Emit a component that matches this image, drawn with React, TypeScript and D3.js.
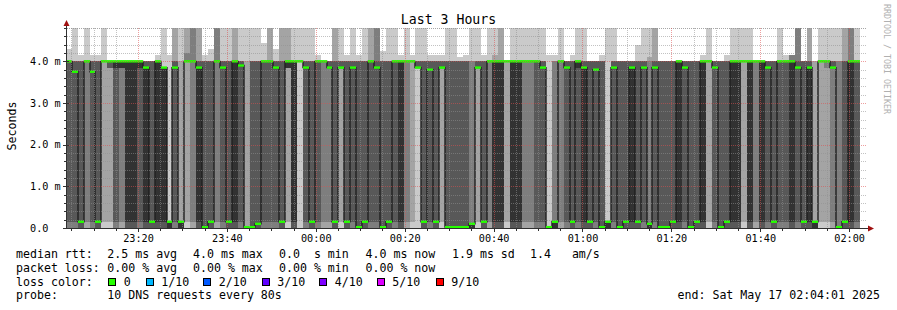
import React from "react";
import * as d3 from "d3";

const WIDTH = 897;
const HEIGHT = 310;

// time window of the graph (3 hours ending at 02:04:01)
const startTime = new Date(Date.UTC(2025, 4, 16, 23, 4, 1));
const endTime = new Date(Date.UTC(2025, 4, 17, 2, 4, 1));
// first RRD step boundary (80 s steps)
const firstStepStart = new Date(Date.UTC(2025, 4, 16, 23, 3, 45));
const stepSeconds = 80;

const yMaxMs = 4.8;
const yMajorTicks = [0, 1, 2, 3, 4];
const yTickLabels = ["0.0", "1.0 m", "2.0 m", "3.0 m", "4.0 m"];

// 10 sorted DNS round trip times (ms) per 80 s step
const pings: number[][] = [
  [0, 0, 0, 0.15, 4, 4, 4, 4, 4, 4.3],
  [0, 0, 0, 0.15, 3.75, 3.75, 4, 4, 4, 5],
  [0, 0, 0, 0, 0.15, 0.15, 4, 4, 4, 4.15],
  [0, 0, 0.15, 4, 4, 4, 4, 4, 4, 5],
  [0, 0, 0, 0.15, 3.75, 3.75, 4, 4, 4, 4.15],
  [0, 0, 0, 0, 0.15, 0.15, 4, 4, 4, 4.15],
  [0, 0.15, 4, 4, 4, 4, 4, 4, 4, 5],
  [0, 0.15, 3.85, 3.85, 4, 4, 4, 4, 4, 4],
  [0, 0, 0, 0.15, 3.85, 4, 4, 4, 4, 4],
  [0, 0, 0.15, 3.85, 3.85, 4, 4, 4, 4, 4],
  [0, 0, 0, 0, 0.15, 4, 4, 4, 4, 4],
  [0, 0, 0, 0, 0.15, 4, 4, 4, 4, 4],
  [0, 0, 0, 0.15, 3.85, 4, 4, 4, 4, 4],
  [0, 0, 0, 0, 0.15, 3.85, 4, 4, 4, 4],
  [0, 0, 0, 0, 0.15, 0.15, 4, 4, 4, 4],
  [0, 0, 0, 0, 0.15, 4, 4, 4, 4, 4.15],
  [0, 0, 0, 0, 0.15, 3.85, 3.85, 3.85, 3.85, 5],
  [0, 0, 0, 0, 0, 0.15, 0.15, 0.15, 0.15, 4.15],
  [0, 0, 0, 0.15, 3.85, 3.85, 4, 4, 5, 5],
  [0, 0, 0, 0, 0, 0.15, 0.15, 0.15, 4, 5],
  [0, 0.15, 4, 4, 4, 4, 4, 4.2, 5, 5],
  [0, 0, 0.15, 4, 4, 4, 4, 5, 5, 5],
  [0, 0, 0, 0, 0.15, 3.85, 4, 4, 5, 5],
  [0, 0, 0, 0, 0.02, 0.02, 4, 4, 4, 4.15],
  [0, 0, 0, 0, 0.15, 0.15, 4, 4, 4, 4.3],
  [0, 0, 0.15, 4, 4, 4, 4, 5, 5, 5],
  [0, 0, 0, 0.15, 3.85, 3.85, 4, 4, 4, 5],
  [0, 0, 0, 0, 0.15, 0.15, 4, 4, 4, 5],
  [0, 0, 0, 0, 0.15, 4, 4, 4, 5, 5],
  [0, 0, 0, 0.15, 3.9, 3.9, 4, 4, 4, 5],
  [0, 0, 0, 0, 0, 0.02, 0.02, 0.02, 4, 5],
  [0, 0, 0, 0, 0.02, 0.02, 4, 4, 4, 5],
  [0, 0, 0, 0, 0.1, 0.1, 4, 4, 4, 5],
  [0, 0, 0, 0.15, 4, 4, 4, 4, 4, 4.45],
  [0, 0, 0, 0.15, 4, 4, 4, 4, 5, 5],
  [0, 0, 0, 0.15, 3.85, 3.85, 4, 4, 4, 4.3],
  [0, 0, 0, 0, 0.15, 0.15, 4, 4, 5, 5],
  [0, 0.15, 3.85, 3.85, 3.85, 4, 4, 4, 5, 5],
  [0, 0, 0, 0, 0.15, 4, 4, 4, 4, 5],
  [0, 4, 4, 4, 4, 4, 4, 4, 4, 5],
  [0, 0, 0, 0.15, 3.85, 3.85, 4, 4, 4, 5],
  [0, 0, 0, 0, 0.15, 0.15, 4, 4, 4, 5],
  [0, 0, 0, 0.15, 4, 4, 4, 4, 4, 4.15],
  [0, 0, 0.15, 4, 4, 4, 4, 4, 4, 4],
  [0, 0, 0.15, 3.85, 3.85, 3.85, 4, 4, 4, 4],
  [0, 0, 0, 0, 0.15, 0.15, 4, 4, 5, 5],
  [0, 0.15, 3.85, 3.85, 3.85, 3.85, 4, 4, 4, 5],
  [0, 0, 0, 0, 0.15, 0.15, 4, 4, 4, 4.15],
  [0, 0, 0, 0.15, 3.85, 3.85, 4, 4, 4, 5],
  [0, 0, 0, 0, 0.02, 0.02, 4, 4, 4, 4.15],
  [0, 0, 0, 0, 0.15, 0.15, 4, 4, 4, 5],
  [0, 0, 0, 0.15, 4, 4, 4, 4, 5, 5],
  [0, 0, 0, 0.15, 3.85, 3.85, 4, 5, 5, 5],
  [0, 0, 0, 0, 0.02, 0.02, 4, 4, 4, 4.25],
  [0, 0, 0, 0, 0.15, 0.15, 4, 4, 4, 5],
  [0, 0, 0, 0.15, 4, 4, 4, 4, 4, 5],
  [0, 0, 0, 0, 0.15, 4, 4, 4, 4, 4.15],
  [0, 0, 0.15, 4, 4, 4, 4, 4, 4, 5],
  [0, 0.15, 4, 4, 4, 4, 4, 4, 4, 4.15],
  [0, 3.85, 3.85, 3.85, 3.85, 3.85, 4, 4, 4, 5],
  [0, 0, 0, 0, 0.15, 0.15, 4, 4, 4, 5],
  [0, 0, 0, 0.15, 3.8, 3.8, 4, 4, 4, 4.15],
  [0, 0, 0, 0, 0.15, 0.15, 4, 4, 4, 4.15],
  [0, 0.15, 3.85, 3.85, 3.85, 3.85, 4, 4, 4, 4.15],
  [0, 0, 0, 0, 0.02, 0.02, 4, 4, 4, 5],
  [0, 0, 0, 0, 0.02, 0.02, 4, 4, 4, 5],
  [0, 0, 0, 0, 0.02, 0.02, 4, 4, 4, 4.1],
  [0, 0, 0, 0, 0.02, 0.02, 4, 4, 4, 4.15],
  [0, 0, 0, 0, 0, 0.1, 0.1, 4, 4, 5],
  [0, 0.15, 3.85, 3.85, 3.85, 3.85, 4, 4, 4, 5],
  [0, 0, 0, 0, 0.15, 0.15, 4, 4, 4, 4.15],
  [0, 0, 0.15, 4, 4, 4, 4, 4, 4, 5],
  [0, 0, 0, 0, 0.15, 4, 4, 4, 4.15, 5],
  [0, 0, 0, 0, 0.15, 4, 4, 4, 5, 5],
  [0, 0.15, 4, 4, 4, 4, 4, 4, 4, 4],
  [0, 0, 0, 0, 0.15, 4, 4, 4, 4, 5],
  [0, 0, 0, 0, 0.15, 4, 4, 4, 4, 5],
  [0, 0, 0.15, 4, 4, 4, 4, 4, 4, 5],
  [0, 0, 0.15, 4, 4, 4, 4, 4, 4, 5],
  [0, 0, 0, 0.15, 4, 4, 4, 4, 4, 5],
  [0, 0, 0, 0.15, 3.85, 3.85, 4, 4, 4, 5],
  [0, 0, 0, 0, 0, 0.02, 0.02, 0.02, 0.02, 4.15],
  [0, 0, 0, 0, 0, 0.15, 0.15, 4, 4, 4.15],
  [0, 0, 0.15, 4, 4, 4, 4, 4, 4, 5],
  [0, 0, 0, 0.15, 3.85, 3.85, 4, 4, 4, 4],
  [0, 0, 0, 0, 0.15, 0.15, 4, 4, 4, 4.15],
  [0, 0, 0, 0.15, 3.85, 4, 4, 4, 4, 5],
  [0, 0, 0, 0, 0.15, 3.85, 4, 4, 4, 5],
  [0, 0, 0, 0, 0.15, 0.15, 4, 4, 4, 4],
  [0, 0, 0, 0.15, 3.8, 3.8, 4, 4, 4, 4],
  [0, 0, 0, 0, 0.02, 0.02, 4, 4, 4, 4.15],
  [0, 0, 0, 0, 0, 0.15, 0.15, 0.15, 0.15, 5],
  [0, 0, 0, 0.15, 3.85, 3.85, 4, 4, 4, 5],
  [0, 0, 0, 0, 0.02, 0.02, 4, 4, 4, 4],
  [0, 0, 0, 0, 0.15, 0.15, 4, 4, 4, 4],
  [0, 0, 0, 0, 0.15, 3.85, 4, 4, 4, 4],
  [0, 0, 0, 0, 0.15, 0.15, 4, 4, 4, 4.4],
  [0, 0, 0, 0.15, 3.85, 3.85, 4, 4, 4, 5],
  [0, 0, 0, 0, 0, 0.1, 0.1, 4, 4.1, 5],
  [0, 0, 0, 0.15, 3.85, 3.85, 4, 4, 5, 5],
  [0, 0, 0, 0, 0.02, 0.02, 4, 4, 4, 4],
  [0, 0, 0, 0, 0.02, 0.02, 4, 4, 4, 4],
  [0, 0, 0, 0, 0.15, 0.15, 4, 4, 4, 4],
  [0, 0, 0, 0, 0.15, 4, 4, 4, 4, 4],
  [0, 0, 0, 0.15, 3.85, 3.85, 4, 4, 4, 4],
  [0, 0, 0, 0, 0.02, 0.02, 4, 4, 4, 4],
  [0, 0, 0, 0, 0.15, 0.15, 4, 4, 4, 4],
  [0, 0, 0, 0, 0.15, 4, 4, 4, 4, 4.15],
  [0, 0.15, 4, 4, 4, 4, 4, 4, 4, 5],
  [0, 0, 0, 0.15, 3.85, 3.85, 4, 4, 4, 4],
  [0, 0, 0, 0, 0.02, 0.02, 4, 4, 4, 4],
  [0, 0, 0, 0, 0.15, 0.15, 4, 4, 4, 4.15],
  [0, 0, 0, 0, 0.15, 4, 4, 4, 4, 5],
  [0, 0, 0, 0, 0.15, 4, 4, 4, 4, 5],
  [0, 0.15, 4, 4, 4, 4, 4, 4, 4, 5],
  [0, 0, 0, 0, 0.15, 4, 4, 4, 4, 5],
  [0, 0, 0.15, 4, 4, 4, 4, 4, 4, 4],
  [0, 0, 0, 0, 0.15, 4, 4, 4, 4, 4],
  [0, 0, 0, 0.15, 3.85, 3.85, 4, 4, 4, 4],
  [0, 0, 0, 0, 0.15, 0.15, 4, 4, 4, 4],
  [0, 0, 0, 0.15, 4, 4, 4, 4, 4, 5],
  [0, 0, 0, 0.15, 4, 4, 4, 4, 4, 4.15],
  [0, 0, 0, 0, 0.15, 4, 4, 4.15, 4.15, 4.15],
  [0, 0, 0, 0.15, 3.85, 3.85, 4, 5, 5, 5],
  [0, 0, 0, 0, 0.15, 0.15, 4, 4, 4, 4],
  [0, 0, 0, 0, 0.15, 3.85, 4, 4, 5, 5],
  [0, 0, 0, 0, 0, 0.15, 0.15, 0.15, 4, 4],
  [0, 0.15, 4, 4, 4, 4, 4, 4, 4, 5],
  [0, 0.15, 3.85, 4, 4, 4, 4, 4, 4, 5],
  [0, 0, 0.15, 3.85, 3.85, 3.85, 4, 4, 4, 5],
  [0, 0, 0, 0, 0, 0.02, 0.02, 4, 4, 5],
  [0, 0, 0, 0, 0.15, 0.15, 4, 4, 5, 5],
  [0, 0, 0, 0, 0.15, 4, 4, 5, 5, 5],
  [0, 0, 0, 0.15, 4, 4, 4, 4, 4, 5],
];

// smoke band greys, outermost pair first
const smokeGreys = ["#cacaca", "#a4a4a4", "#7e7e7e", "#585858", "#323232"];
const medianColor = "#26ff00";

const lossColors = ["#26ff00", "#00b8ff", "#0059ff", "#5e00ff", "#7e00ff", "#dd00ff", "#ff0000"];
const lossLabels = ["0", "1/10", "2/10", "3/10", "4/10", "5/10", "9/10"];

const rttLabels = ["2.5 ms avg", "4.0 ms max", "0.0  s min", "4.0 ms now", "1.9 ms sd", "1.4   am/s"];
const lossStats = ["0.00 % avg", "0.00 % max", "0.00 % min", "0.00 % now"];
const probeText = "10 DNS requests every 80s";
const endText = "end: Sat May 17 02:04:01 2025";
const titleText = "Last 3 Hours";
const yAxisTitle = "Seconds";
const watermark = "RRDTOOL / TOBI OETIKER";

const MONO = "'DejaVu Sans Mono', 'Liberation Mono', monospace";

export default function App() {
  const L = 67, R = 867, T = 28, B = 228;
  const x = d3.scaleUtc().domain([startTime, endTime]).range([L, R]);
  const y = d3.scaleLinear().domain([0, yMaxMs]).range([B, T]);

  const cols = pings.map((p, k) => {
    const t0 = new Date(firstStepStart.getTime() + k * stepSeconds * 1000);
    const t1 = new Date(t0.getTime() + stepSeconds * 1000);
    const sorted = [...p].sort((a, b) => a - b);
    return { x0: Math.round(x(t0)), x1: Math.round(x(t1)), p: sorted, median: sorted[5] };
  });

  const clampV = (v: number) => Math.max(0, Math.min(yMaxMs, v));

  const minorX = x.ticks(d3.utcMinute.every(5) as any);
  const majorX = x.ticks(d3.utcMinute.every(20) as any);
  const majorXSet = new Set(majorX.map((d) => d.getTime()));
  const fmt = d3.utcFormat("%H:%M");

  const minorY = d3.range(1, 25).map((i) => i * 0.2).filter((v) => Math.abs(v - Math.round(v)) > 1e-6);

  const stepPts: [number, number][] = [];
  cols.forEach((c) => stepPts.push([c.x0, y(c.median)]));
  const last = cols[cols.length - 1];
  stepPts.push([last.x1, y(last.median)]);
  const stepLine = d3.line().curve(d3.curveStepAfter)(stepPts) || "";

  const legendCols = [107.3, 193, 279, 365.5, 452, 530];
  const boxX = [108.5, 146, 203.5, 262, 319.5, 377, 436];

  return (
    <svg width={WIDTH} height={HEIGHT} style={{ display: "block", position: "absolute", left: 0, top: 0, background: "#fff" }}>
      <defs>
        <clipPath id="plotClip">
          <rect x={L} y={T} width={R - L} height={B - T} />
        </clipPath>
      </defs>
      <rect x={0} y={0} width={WIDTH} height={HEIGHT} fill="#fff" />

      <g clipPath="url(#plotClip)" shapeRendering="crispEdges">
        {cols.map((c, k) =>
          smokeGreys.map((g, i) => {
            const lo = clampV(c.p[i]);
            const hi = clampV(c.p[9 - i]);
            if (hi <= lo) return null;
            return (
              <rect key={`s${k}-${i}`} x={c.x0} width={c.x1 - c.x0} y={Math.round(y(hi))} height={Math.round(y(lo)) - Math.round(y(hi))} fill={g} />
            );
          })
        )}
      </g>

      <g clipPath="url(#plotClip)">
        <path d={stepLine} fill="none" stroke="#202020" strokeWidth={1.4} />
        {cols.map((c, k) => (
          <rect key={`m${k}`} x={c.x0} width={c.x1 - c.x0} y={y(c.median) - 1.2} height={2.4} fill={medianColor} />
        ))}
      </g>

      {/* grid */}
      <g shapeRendering="crispEdges">
        {minorY.map((v) => (
          <line key={`gy${v}`} x1={L} x2={R} y1={Math.round(y(v)) + 0.5} y2={Math.round(y(v)) + 0.5} stroke="rgba(143,143,143,0.55)" strokeDasharray="1,1" />
        ))}
        {[1, 2, 3, 4].map((v) => (
          <line key={`My${v}`} x1={L} x2={R} y1={Math.round(y(v)) + 0.5} y2={Math.round(y(v)) + 0.5} stroke="rgba(222,79,79,0.55)" strokeDasharray="1,1" />
        ))}
        <line x1={L} x2={R} y1={T + 0.5} y2={T + 0.5} stroke="rgba(143,143,143,0.55)" strokeDasharray="1,1" />
        {minorX.filter((d) => !majorXSet.has(d.getTime())).map((d) => (
          <line key={`gx${d.getTime()}`} x1={Math.round(x(d)) + 0.5} x2={Math.round(x(d)) + 0.5} y1={T} y2={B} stroke="rgba(143,143,143,0.55)" strokeDasharray="1,1" />
        ))}
        {majorX.map((d) => (
          <line key={`Mx${d.getTime()}`} x1={Math.round(x(d)) + 0.5} x2={Math.round(x(d)) + 0.5} y1={T} y2={B} stroke="rgba(222,79,79,0.55)" strokeDasharray="1,1" />
        ))}
      </g>

      {/* axes */}
      <g shapeRendering="crispEdges" stroke="#303030">
        <line x1={L - 0.5} x2={L - 0.5} y1={B} y2={24} />
        <line x1={L} x2={869} y1={B + 0.5} y2={B + 0.5} />
        {minorY.map((v) => (
          <line key={`ty${v}`} x1={L - 3} x2={L} y1={Math.round(y(v)) + 0.5} y2={Math.round(y(v)) + 0.5} />
        ))}
        {yMajorTicks.map((v) => (
          <line key={`Ty${v}`} x1={L - 4} x2={L + 2} y1={Math.round(y(v)) + 0.5} y2={Math.round(y(v)) + 0.5} />
        ))}
        {minorX.map((d) => (
          <line key={`tx${d.getTime()}`} x1={Math.round(x(d)) + 0.5} x2={Math.round(x(d)) + 0.5} y1={B} y2={majorXSet.has(d.getTime()) ? B + 4 : B + 3} />
        ))}
      </g>
      <path d={`M${L - 3.5},26 L${L + 2.5},26 L${L - 0.5},20 Z`} fill="#a01010" />
      <path d={`M868,${B - 2.5} L868,${B + 3.5} L874,${B + 0.5} Z`} fill="#a01010" />

      {/* axis labels */}
      <g fontFamily={MONO} fontSize={10.2} fill="#000">
        {yMajorTicks.map((v, i) => (
          <text key={`ly${v}`} x={30} y={y(v) + 3.6}>{yTickLabels[i]}</text>
        ))}
        {majorX.map((d) => (
          <text key={`lx${d.getTime()}`} x={x(d) + 0.5} y={241.5} textAnchor="middle">{fmt(d)}</text>
        ))}
      </g>

      <text x={448.5} y={24} textAnchor="middle" fontFamily={MONO} fontSize={13.2} fill="#000">{titleText}</text>
      <text transform="translate(16,126) rotate(-90)" textAnchor="middle" fontFamily={MONO} fontSize={11.6} fill="#000">{yAxisTitle}</text>
      <text transform="translate(884,4) rotate(90)" fontFamily={MONO} fontSize={8.3} fill="#b0b0b0">{watermark}</text>

      {/* legend */}
      <g fontFamily={MONO} fontSize={11.6} fill="#000" style={{ whiteSpace: "pre" }}>
        <text x={16} y={258.3}>median rtt:</text>
        {rttLabels.map((t, i) => (
          <text key={`r${i}`} x={legendCols[i]} y={258.3} xmlSpace="preserve">{t}</text>
        ))}
        <text x={16} y={272}>packet loss:</text>
        {lossStats.map((t, i) => (
          <text key={`p${i}`} x={legendCols[i]} y={272} xmlSpace="preserve">{t}</text>
        ))}
        <text x={16} y={285.7}>loss color:</text>
        {lossColors.map((c, i) => (
          <g key={`lc${i}`}>
            <rect x={boxX[i]} y={278.5} width={7} height={7} fill={c} stroke="#000" strokeWidth={1} shapeRendering="crispEdges" />
            <text x={boxX[i] + 15.3} y={285.7}>{lossLabels[i]}</text>
          </g>
        ))}
        <text x={16} y={299.3}>probe:</text>
        <text x={107.3} y={299.3}>{probeText}</text>
        <text x={677.5} y={299.3}>{endText}</text>
      </g>
    </svg>
  );
}
